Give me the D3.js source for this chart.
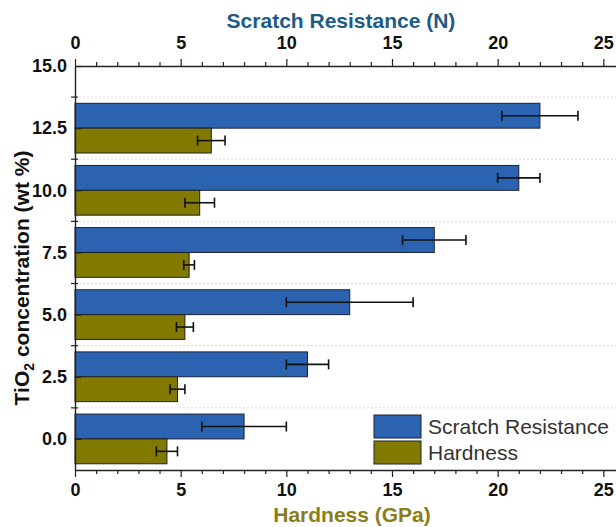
<!DOCTYPE html>
<html>
<head>
<meta charset="utf-8">
<script src="https://cdn.jsdelivr.net/npm/d3@7"></script>
<style>
  body { margin: 0; background: #fff; }
  svg { display: block; }
  text { font-family: "Liberation Sans", Arial, sans-serif; }
</style>
</head>
<body>
<svg id="chart" width="616" height="527"></svg>
<script>
// TiO2 content of each coating (wt %)
const concentrations = [0, 2.5, 5, 7.5, 10, 12.5];
// Scratch resistance (N) with its standard deviation
const scratch = [8, 11, 13, 17, 21, 22];
const scratchErr = [2, 1, 3, 1.5, 1, 1.8];
// Hardness (GPa) with its standard deviation
const hardness = [4.35, 4.85, 5.2, 5.4, 5.9, 6.45];
const hardnessErr = [0.5, 0.35, 0.4, 0.25, 0.7, 0.65];

const seriesNames = ["Scratch Resistance", "Hardness"];
const seriesColors = ["#2c63b1", "#827a00"];
const xMajorTicks = [0, 5, 10, 15, 20, 25];
const xMinorTicks = d3.range(0, 26, 1).filter(v => v % 5 !== 0);
const yMajorTicks = [0, 2.5, 5, 7.5, 10, 12.5, 15];
const yMinorTicks = [1.25, 3.75, 6.25, 8.75, 11.25, 13.75];

const svg = d3.select("#chart");
const plot = { left: 75, right: 616, top: 66, bottom: 470 };

const x = d3.scaleLinear().domain([0, 25.6]).range([plot.left, plot.right]);
const y = d3.scaleLinear().domain([-1.25, 15]).range([plot.bottom, plot.top]);
const barH = y(0) - y(1);  // each bar is one concentration unit tall

// dotted separators between concentration groups
svg.append("g")
  .selectAll("line")
  .data(yMinorTicks)
  .join("line")
  .attr("x1", plot.left).attr("x2", plot.right)
  .attr("y1", d => y(d)).attr("y2", d => y(d))
  .attr("stroke", "#dcdcdc")
  .attr("stroke-width", 1)
  .attr("stroke-dasharray", "2,2");

const rows = concentrations.map((c, i) => ({
  c,
  vals: [
    { v: scratch[i], e: scratchErr[i], s: 0 },
    { v: hardness[i], e: hardnessErr[i], s: 1 }
  ]
}));

const bars = svg.append("g");
rows.forEach(r => {
  r.vals.forEach(d => {
    // scratch bar sits above the concentration line, hardness below
    const yTop = d.s === 0 ? y(r.c + 1) : y(r.c);
    bars.append("rect")
      .attr("x", x(0))
      .attr("y", yTop)
      .attr("width", x(d.v) - x(0))
      .attr("height", barH)
      .attr("fill", seriesColors[d.s])
      .attr("stroke", "#1b2230")
      .attr("stroke-width", 1);
  });
});

// error bars
const errG = svg.append("g").attr("stroke", "#111").attr("stroke-width", 1.6);
rows.forEach(r => {
  r.vals.forEach(d => {
    const yc = d.s === 0 ? y(r.c + 0.5) : y(r.c - 0.5);
    const x0 = x(d.v - d.e), x1 = x(d.v + d.e);
    errG.append("line").attr("x1", x0).attr("x2", x1).attr("y1", yc).attr("y2", yc);
    errG.append("line").attr("x1", x0).attr("x2", x0).attr("y1", yc - 5).attr("y2", yc + 5);
    errG.append("line").attr("x1", x1).attr("x2", x1).attr("y1", yc - 5).attr("y2", yc + 5);
  });
});

function styleAxis(g) {
  g.selectAll("path").attr("stroke", "#222").attr("stroke-width", 1.4);
  g.selectAll("line").attr("stroke", "#222").attr("stroke-width", 1.2);
  g.selectAll("text")
    .attr("fill", "#111")
    .style("font-size", "18px")
    .style("font-weight", "bold");
}

// top axis: Scratch Resistance (N)
svg.append("g")
  .attr("transform", `translate(0,${plot.top})`)
  .call(d3.axisTop(x).tickValues(xMajorTicks).tickSize(7).tickSizeOuter(0).tickPadding(10).tickFormat(d3.format("d")))
  .call(styleAxis);
svg.append("g")
  .attr("transform", `translate(0,${plot.top})`)
  .call(d3.axisTop(x).tickValues(xMinorTicks).tickSize(4).tickSizeOuter(0).tickFormat(""))
  .call(g => g.select(".domain").remove())
  .call(styleAxis);

// bottom axis: Hardness (GPa)
svg.append("g")
  .attr("transform", `translate(0,${plot.bottom})`)
  .call(d3.axisBottom(x).tickValues(xMajorTicks).tickSize(7).tickSizeOuter(0).tickPadding(6).tickFormat(d3.format("d")))
  .call(styleAxis);
svg.append("g")
  .attr("transform", `translate(0,${plot.bottom})`)
  .call(d3.axisBottom(x).tickValues(xMinorTicks).tickSize(4).tickSizeOuter(0).tickFormat(""))
  .call(g => g.select(".domain").remove())
  .call(styleAxis);

// left axis: TiO2 concentration
svg.append("g")
  .attr("transform", `translate(${plot.left},0)`)
  .call(d3.axisLeft(y).tickValues(yMajorTicks).tickSize(-6).tickSizeOuter(0).tickPadding(8).tickFormat(d3.format(".1f")))
  .call(styleAxis);
svg.append("g")
  .attr("transform", `translate(${plot.left},0)`)
  .selectAll("line")
  .data(yMinorTicks)
  .join("line")
  .attr("x1", -4).attr("x2", 3)
  .attr("y1", d => y(d)).attr("y2", d => y(d))
  .attr("stroke", "#222").attr("stroke-width", 1.2);

// axis titles
svg.append("text")
  .attr("x", 341).attr("y", 28)
  .attr("text-anchor", "middle")
  .attr("fill", "#1d5b86")
  .style("font-size", "21px").style("font-weight", "bold")
  .text("Scratch Resistance (N)");

svg.append("text")
  .attr("x", 352).attr("y", 522)
  .attr("text-anchor", "middle")
  .attr("fill", "#8a7e1a")
  .style("font-size", "21px").style("font-weight", "bold")
  .text("Hardness (GPa)");

const yTitle = svg.append("text")
  .attr("transform", "translate(29,278) rotate(-90)")
  .attr("text-anchor", "middle")
  .attr("fill", "#111")
  .style("font-size", "21px").style("font-weight", "bold");
yTitle.append("tspan").text("TiO");
yTitle.append("tspan").attr("dy", 5).style("font-size", "14px").text("2");
yTitle.append("tspan").attr("dy", -5).text(" concentration (wt %)");

// legend
const legend = svg.append("g").attr("transform", "translate(374,415)");
seriesNames.forEach((name, i) => {
  legend.append("rect")
    .attr("x", 0).attr("y", i * 26)
    .attr("width", 47).attr("height", 23)
    .attr("fill", seriesColors[i])
    .attr("stroke", "#1b2230").attr("stroke-width", 1);
  legend.append("text")
    .attr("x", 54).attr("y", i * 26 + 19)
    .attr("fill", "#333")
    .style("font-size", "21px")
    .text(name);
});
</script>
</body>
</html>
